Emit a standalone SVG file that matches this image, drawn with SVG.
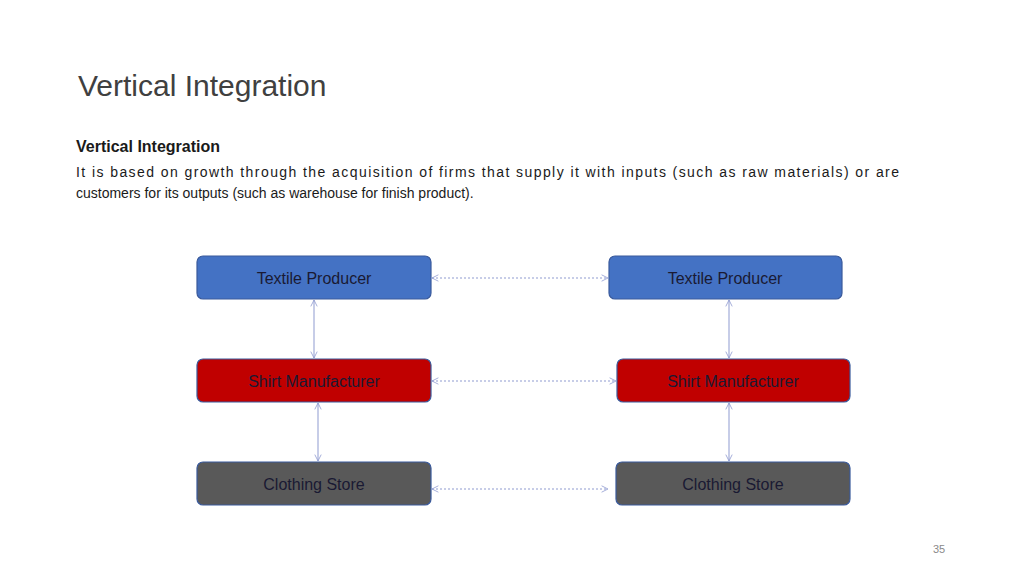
<svg xmlns="http://www.w3.org/2000/svg" width="1024" height="576" viewBox="0 0 1024 576">
<defs>
<marker id="a" viewBox="0 0 10 10" refX="9" refY="5" markerWidth="8" markerHeight="8" orient="auto-start-reverse" markerUnits="userSpaceOnUse"><path d="M1,1 L9,5 L1,9" fill="none" stroke="#8f9bd0" stroke-width="1"/></marker>
</defs>
<style>
.t{font-family:"Liberation Sans",Arial,sans-serif;}
.n{font-family:"Liberation Sans",Arial,sans-serif;font-size:16px;fill:#1a1a33;text-anchor:middle;}
.blue{fill:#4472c4;stroke:#3a5a9c;stroke-width:1.2}
.red{fill:#c00000;stroke:#3a5a9c;stroke-width:1.2}
.gray{fill:#595959;stroke:#3a5a9c;stroke-width:1.2}
.c{stroke:#8f9bd0;stroke-width:1;fill:none;marker-start:url(#a);marker-end:url(#a)}
.d{stroke-dasharray:2,2}
</style>
<rect width="1024" height="576" fill="#fff"/>
<text class="t" x="78" y="96" font-size="30" fill="#404040">Vertical Integration</text>
<text class="t" x="76" y="152" font-size="16" font-weight="bold" fill="#1a1a1a">Vertical Integration</text>
<text class="t" x="76" y="177" font-size="14" fill="#1a1a1a" textLength="823" lengthAdjust="spacing">It is based on growth through the acquisition of firms that supply it with inputs (such as raw materials) or are</text>
<text class="t" x="76" y="198" font-size="14" fill="#1a1a1a">customers for its outputs (such as warehouse for finish product).</text>
<g id="connectors">
<line class="c d" x1="432" y1="278" x2="608" y2="278"/>
<line class="c d" x1="432" y1="381" x2="616" y2="381"/>
<line class="c d" x1="432" y1="489" x2="608" y2="489"/>
<line class="c" x1="314" y1="300" x2="314" y2="358"/>
<line class="c" x1="318" y1="403" x2="318" y2="461"/>
<line class="c" x1="729" y1="300" x2="729" y2="358"/>
<line class="c" x1="729" y1="403" x2="729" y2="461"/>
</g>
<g id="tp1"><rect class="blue" x="197" y="256" width="234" height="43" rx="6"/><text class="n" x="314" y="284">Textile Producer</text></g>
<g id="tp2"><rect class="blue" x="609" y="256" width="233" height="43" rx="6"/><text class="n" x="725" y="284">Textile Producer</text></g>
<g id="sm1"><rect class="red" x="197" y="359" width="234" height="43" rx="6"/><text class="n" x="314" y="387">Shirt Manufacturer</text></g>
<g id="sm2"><rect class="red" x="617" y="359" width="233" height="43" rx="6"/><text class="n" x="733" y="387">Shirt Manufacturer</text></g>
<g id="cs1"><rect class="gray" x="197" y="462" width="234" height="43" rx="6"/><text class="n" x="314" y="490">Clothing Store</text></g>
<g id="cs2"><rect class="gray" x="616" y="462" width="234" height="43" rx="6"/><text class="n" x="733" y="490">Clothing Store</text></g>
<text class="t" x="939" y="553" font-size="11" fill="#8a8a8a" text-anchor="middle">35</text>
</svg>
